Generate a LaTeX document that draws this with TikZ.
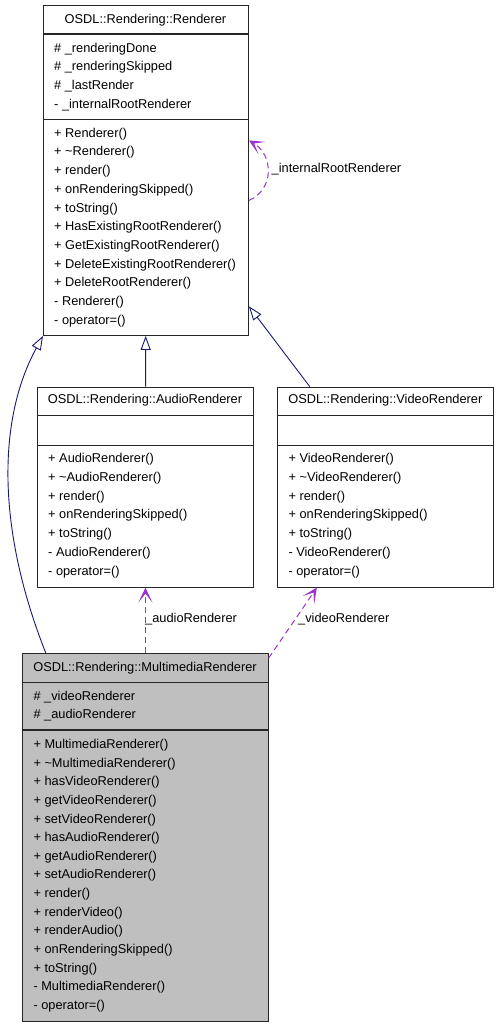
\documentclass[tikz,border=0pt]{standalone}
\usepackage{fontspec}
\setmainfont{Liberation Sans}
\usetikzlibrary{arrows.meta,calc}
\definecolor{inhblue}{HTML}{191970}
\definecolor{usepurple}{HTML}{9A32CD}
\definecolor{classgray}{HTML}{BFBFBF}

\begin{document}
\begin{tikzpicture}[x=1pt, y=-1pt,
    every node/.style={font=\fontsize{12.8}{15}\selectfont},
    classbox/.style={draw=black!85, line width=0.9pt, inner sep=0pt, anchor=north west},
    sepline/.style={draw=black!85, line width=1.1pt},
    member/.style={anchor=base west, inner sep=0pt},
    classname/.style={anchor=base, inner sep=0pt},
    inherit/.style={draw=inhblue, line width=0.9pt, -{Triangle[open, length=14pt, width=10pt]}},
    uses/.style={draw=usepurple, line width=1pt, dash pattern=on 6pt off 4pt, -{Stealth[length=15pt, width=14pt, inset=9pt, line width=1.3pt]}},
    rolelabel/.style={anchor=base west, inner sep=0pt}]
    \useasboundingbox (0,0) rectangle (499,1027);

    % Renderer
    \node[classbox, minimum width=205pt, minimum height=330pt] (renderer) at (43,5) {};
    \draw[sepline] (43,34) -- (248,34);
    \draw[sepline] (43,119.5) -- (248,119.5);
    \node[classname] (renderer-title) at (145.5,23.5) {OSDL::Rendering::Renderer};
    \foreach \txt [count=\i] in {\# \_renderingDone, \# \_renderingSkipped, \# \_lastRender, - \_internalRootRenderer}
        \node[member] (renderer-a\i) at (54,{52.3+18.65*(\i-1)}) {\txt};
    \foreach \txt [count=\i] in {+ Renderer(), + \textasciitilde Renderer(), + render(), + onRenderingSkipped(), + toString(),
        + HasExistingRootRenderer(), + GetExistingRootRenderer(), + DeleteExistingRootRenderer(), + DeleteRootRenderer(),
        - Renderer(), - operator=()}
        \node[member] (renderer-m\i) at (54,{137.2+18.7*(\i-1)}) {\txt};

    % AudioRenderer
    \node[classbox, minimum width=216pt, minimum height=200pt] (audio) at (37,386.7) {};
    \draw[sepline] (37,415.7) -- (253,415.7);
    \draw[sepline] (37,445.3) -- (253,445.3);
    \node[classname] (audio-title) at (145,403.8) {OSDL::Rendering::AudioRenderer};
    \foreach \txt [count=\i] in {+ AudioRenderer(), + \textasciitilde AudioRenderer(), + render(), + onRenderingSkipped(),
        + toString(), - AudioRenderer(), - operator=()}
        \node[member] (audio-m\i) at (48,{462.8+18.73*(\i-1)}) {\txt};

    % VideoRenderer
    \node[classbox, minimum width=216pt, minimum height=200pt] (video) at (277.3,386.7) {};
    \draw[sepline] (277.3,415.7) -- (493.3,415.7);
    \draw[sepline] (277.3,445.3) -- (493.3,445.3);
    \node[classname] (video-title) at (385.3,403.8) {OSDL::Rendering::VideoRenderer};
    \foreach \txt [count=\i] in {+ VideoRenderer(), + \textasciitilde VideoRenderer(), + render(), + onRenderingSkipped(),
        + toString(), - VideoRenderer(), - operator=()}
        \node[member] (video-m\i) at (288.3,{462.8+18.73*(\i-1)}) {\txt};

    % MultimediaRenderer
    \node[classbox, fill=classgray, minimum width=245.4pt, minimum height=368pt] (multi) at (22.3,653) {};
    \draw[sepline] (22.3,682.3) -- (267.7,682.3);
    \draw[sepline] (22.3,730) -- (267.7,730);
    \node[classname] (multi-title) at (145,671.2) {OSDL::Rendering::MultimediaRenderer};
    \foreach \txt [count=\i] in {\# \_videoRenderer, \# \_audioRenderer}
        \node[member] (multi-a\i) at (33.3,{700.2+18.6*(\i-1)}) {\txt};
    \foreach \txt [count=\i] in {+ MultimediaRenderer(), + \textasciitilde MultimediaRenderer(), + hasVideoRenderer(),
        + getVideoRenderer(), + setVideoRenderer(), + hasAudioRenderer(), + getAudioRenderer(), + setAudioRenderer(),
        + render(), + renderVideo(), + renderAudio(), + onRenderingSkipped(), + toString(), - MultimediaRenderer(),
        - operator=()}
        \node[member] (multi-m\i) at (33.3,{748.5+18.64*(\i-1)}) {\txt};

    % inheritance
    \draw[inherit] (audio) -- (renderer);
    \draw[inherit] (video) -- (renderer);
    \draw[inherit] ($(multi.north west)+(23.5,0)$) .. controls (-3,530) and (-3,420) .. (renderer.south west);

    % usage
    \draw[uses] ($(renderer.east)+(0,30)$) .. controls (274,190) and (274,155) .. ($(renderer.east)+(0,-30)$);
    \node[rolelabel] (root-label) at (271.5,172.5) {\_internalRootRenderer};
    \draw[uses] (multi) -- (audio);
    \node[rolelabel] (audio-label) at (145,622.5) {\_audioRenderer};
    \draw[uses] (multi) -- (video);
    \node[rolelabel] (video-label) at (298,622.5) {\_videoRenderer};
\end{tikzpicture}
\end{document}
